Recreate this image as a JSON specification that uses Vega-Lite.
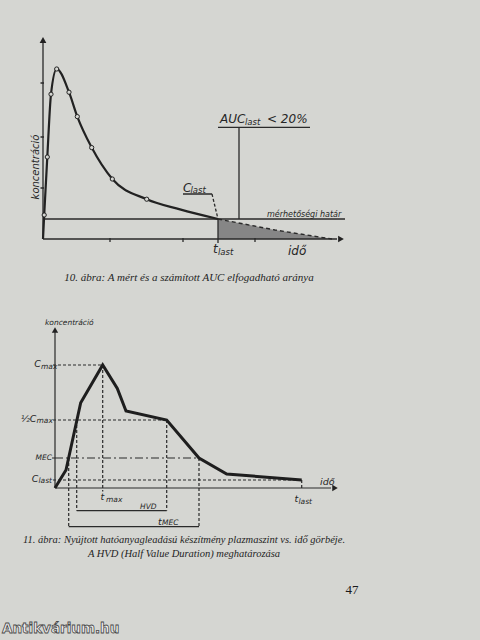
{
  "$schema": "https://vega.github.io/schema/vega-lite/v6.json",
  "autosize": {"type": "none"},
  "padding": {"left": 43, "top": 39, "right": 437, "bottom": 601},
  "background": "#d5d6d2",
  "bounds": "flush",
  "spacing": 79,
  "config": {
    "view": {"stroke": null},
    "text": {"font": "DejaVu Sans", "fontStyle": "italic", "color": "#262626"}
  },
  "datasets": {
    "c1curve": [
      {"t": 0, "c": 0, "obs": false},
      {"t": 0.12, "c": 12, "obs": true},
      {"t": 0.43, "c": 41, "obs": true},
      {"t": 0.8, "c": 72.4, "obs": true},
      {"t": 1.37, "c": 85, "obs": true},
      {"t": 2.6, "c": 73.4, "obs": true},
      {"t": 3.43, "c": 61.2, "obs": true},
      {"t": 4.87, "c": 45.7, "obs": true},
      {"t": 6.93, "c": 30, "obs": true},
      {"t": 10.37, "c": 19.9, "obs": true},
      {"t": 13.7, "c": 14.8, "obs": false},
      {"t": 17.5, "c": 10, "obs": false}
    ],
    "c1ext": [
      {"t": 17.5, "c": 10},
      {"t": 23.2, "c": 4.5},
      {"t": 28.9, "c": 0}
    ],
    "c1rules": [
      {"t": 0, "c": 0, "t2": 29.4, "c2": 0, "dash": "solid"},
      {"t": 0, "c": 0, "t2": 0, "c2": 98.5, "dash": "solid"},
      {"t": 0, "c": 10, "t2": 30.2, "c2": 10, "dash": "solid"},
      {"t": 17.5, "c": -2, "t2": 17.5, "c2": 10, "dash": "solid"},
      {"t": 19.6, "c": 10, "t2": 19.6, "c2": 55.8, "dash": "solid"},
      {"t": 17.5, "c": 55.8, "t2": 26.7, "c2": 55.8, "dash": "solid"},
      {"t": 14, "c": 22.5, "t2": 16.9, "c2": 22.5, "dash": "solid"},
      {"t": 16.9, "c": 22.5, "t2": 17.5, "c2": 10, "dash": "dashed"},
      {"t": -0.25, "c": 78, "t2": 0.1, "c2": 78, "dash": "solid"},
      {"t": -0.25, "c": 51, "t2": 0.1, "c2": 51, "dash": "solid"},
      {"t": -0.25, "c": 25.5, "t2": 0.1, "c2": 25.5, "dash": "solid"},
      {"t": 6.7, "c": -1.5, "t2": 6.7, "c2": 0.5, "dash": "solid"},
      {"t": 14, "c": -1.5, "t2": 14, "c2": 0.5, "dash": "solid"},
      {"t": 21.2, "c": -1.5, "t2": 21.2, "c2": 0.5, "dash": "solid"}
    ],
    "c1arrows": [
      {"t": 29.8, "c": 0, "shape": "triangle-right"},
      {"t": 0, "c": 99.5, "shape": "triangle-up"}
    ],
    "c1text": [
      {"t": 17.7, "c": 57.8, "label": "AUC", "kind": "big"},
      {"t": 22.4, "c": 57.8, "label": "< 20%", "kind": "big"},
      {"t": 14.0, "c": 23.7, "label": "C", "kind": "big"},
      {"t": 17.0, "c": -7, "label": "t", "kind": "big"},
      {"t": 24.5, "c": -8, "label": "idő", "kind": "big"},
      {"t": 20.2, "c": 57, "label": "last", "kind": "sub"},
      {"t": 14.75, "c": 23.2, "label": "last", "kind": "sub"},
      {"t": 17.5, "c": -8, "label": "last", "kind": "sub"},
      {"t": 22.4, "c": 11, "label": "mérhetőségi határ", "kind": "note"},
      {"t": -0.75, "c": 36, "label": "koncentráció", "kind": "vert"}
    ],
    "c2curve": [
      {"t": 0, "c": 0},
      {"t": 1.1, "c": 9},
      {"t": 2.57, "c": 42.6},
      {"t": 4.77, "c": 61.5},
      {"t": 6.23, "c": 49.8},
      {"t": 7.1, "c": 38.5},
      {"t": 11.17, "c": 34},
      {"t": 14.4, "c": 15},
      {"t": 17.17, "c": 7},
      {"t": 24.67, "c": 4}
    ],
    "c2rules": [
      {"t": 0, "c": 0, "t2": 27.6, "c2": 0, "dash": "solid"},
      {"t": 0, "c": 0, "t2": 0, "c2": 78.5, "dash": "solid"},
      {"t": -0.3, "c": 15, "t2": 0, "c2": 15, "dash": "solid"},
      {"t": 2.17, "c": -11.3, "t2": 11.17, "c2": -11.3, "dash": "solid"},
      {"t": 1.37, "c": -19.3, "t2": 14.4, "c2": -19.3, "dash": "solid"},
      {"t": -0.2, "c": 61.5, "t2": 4.77, "c2": 61.5, "dash": "dashed"},
      {"t": -0.2, "c": 34, "t2": 11.17, "c2": 34, "dash": "dashed"},
      {"t": -0.2, "c": 4, "t2": 24.67, "c2": 4, "dash": "dashed"},
      {"t": 0, "c": 15, "t2": 14.4, "c2": 15, "dash": "dashdot"},
      {"t": 4.77, "c": 61.5, "t2": 4.77, "c2": -1.8, "dash": "dashed"},
      {"t": 2.17, "c": 34, "t2": 2.17, "c2": -11.3, "dash": "dashed"},
      {"t": 11.17, "c": 34, "t2": 11.17, "c2": -11.3, "dash": "dashed"},
      {"t": 1.37, "c": 15, "t2": 1.37, "c2": -19.3, "dash": "dashed"},
      {"t": 14.4, "c": 15, "t2": 14.4, "c2": -19.3, "dash": "dashed"},
      {"t": 24.67, "c": 4, "t2": 24.67, "c2": 0, "dash": "dashed"}
    ],
    "c2arrows": [
      {"t": 28, "c": 0, "shape": "triangle-right"},
      {"t": 0, "c": 79, "shape": "triangle-up"}
    ],
    "c2text": [
      {"t": 4.55, "c": -6, "label": "t", "kind": "big"},
      {"t": 23.95, "c": -6.8, "label": "t", "kind": "big"},
      {"t": 10.3, "c": -18.6, "label": "t", "kind": "big"},
      {"t": 26.5, "c": 1.5, "label": "idő", "kind": "big"},
      {"t": 5.1, "c": -7, "label": "max", "kind": "sub"},
      {"t": 24.35, "c": -8, "label": "last", "kind": "sub"},
      {"t": 10.7, "c": -18.6, "label": "MEC", "kind": "sub"},
      {"t": 8.5, "c": -10.3, "label": "HVD", "kind": "sub"},
      {"t": -1.0, "c": 81.5, "label": "koncentráció", "kind": "sub"},
      {"t": -1.4, "c": 59.7, "label": "max", "kind": "sub"},
      {"t": -1.85, "c": 32.3, "label": "max", "kind": "sub"},
      {"t": -1.65, "c": 2.3, "label": "last", "kind": "sub"},
      {"t": -1.4, "c": 60.3, "label": "C", "kind": "bigR"},
      {"t": -1.85, "c": 32.8, "label": "½C", "kind": "bigR"},
      {"t": -1.65, "c": 2.8, "label": "C", "kind": "bigR"},
      {"t": -0.3, "c": 13.8, "label": "MEC", "kind": "subR"}
    ],
    "footer": [
      {"u": 309, "v": 37, "label": "47", "kind": "page"},
      {"u": -41, "v": -1.5, "label": "Antikvárium.hu", "kind": "mark"}
    ]
  },
  "vconcat": [
    {
      "width": 300,
      "height": 200,
      "title": {
        "text": "10. ábra: A mért és a számított AUC elfogadható aránya",
        "orient": "bottom", "anchor": "middle", "frame": "group", "offset": 15, "dx": -4,
        "font": "Liberation Serif", "fontStyle": "italic", "fontWeight": "normal",
        "fontSize": 11, "color": "#1e1e1e"
      },
      "encoding": {
        "x": {"field": "t", "type": "quantitative", "scale": {"domain": [0, 30], "nice": false, "zero": false}, "axis": null},
        "y": {"field": "c", "type": "quantitative", "scale": {"domain": [0, 100], "nice": false, "zero": false}, "axis": null}
      },
      "layer": [
        {
          "data": {"name": "c1ext"},
          "mark": {"type": "area", "color": "#7d7d7d", "opacity": 0.9},
          "encoding": {"y2": {"datum": 0}}
        },
        {
          "data": {"name": "c1rules"},
          "mark": {"type": "rule", "color": "#2a2a2a", "strokeWidth": 1.3},
          "encoding": {
            "x2": {"field": "t2"},
            "y2": {"field": "c2"},
            "strokeDash": {"field": "dash", "type": "nominal", "scale": {"domain": ["solid", "dashed", "dashdot"], "range": [[1, 0], [3, 2], [8, 3, 2, 3]]}, "legend": null}
          }
        },
        {
          "data": {"name": "c1ext"},
          "mark": {"type": "line", "color": "#2a2a2a", "strokeWidth": 1.4, "strokeDash": [4, 3]},
          "encoding": {}
        },
        {
          "data": {"name": "c1curve"},
          "mark": {"type": "line", "color": "#222222", "strokeWidth": 2.2, "interpolate": "monotone"},
          "encoding": {}
        },
        {
          "data": {"name": "c1curve"},
          "transform": [{"filter": "datum.obs"}],
          "mark": {"type": "point", "shape": "circle", "size": 18, "filled": true, "fill": "#d5d6d2", "stroke": "#222222", "strokeWidth": 1, "opacity": 1},
          "encoding": {}
        },
        {
          "data": {"name": "c1arrows"},
          "mark": {"type": "point", "filled": true, "color": "#222222", "size": 45, "opacity": 1},
          "encoding": {"shape": {"field": "shape", "type": "nominal", "scale": null}}
        },
        {
          "data": {"name": "c1text"},
          "transform": [{"filter": "datum.kind == 'big'"}],
          "mark": {"type": "text", "align": "left", "baseline": "alphabetic", "fontSize": 12},
          "encoding": {"text": {"field": "label"}}
        },
        {
          "data": {"name": "c1text"},
          "transform": [{"filter": "datum.kind == 'sub'"}],
          "mark": {"type": "text", "align": "left", "baseline": "alphabetic", "fontSize": 8.5},
          "encoding": {"text": {"field": "label"}}
        },
        {
          "data": {"name": "c1text"},
          "transform": [{"filter": "datum.kind == 'note'"}],
          "mark": {"type": "text", "align": "left", "baseline": "alphabetic", "fontSize": 8},
          "encoding": {"text": {"field": "label"}}
        },
        {
          "data": {"name": "c1text"},
          "transform": [{"filter": "datum.kind == 'vert'"}],
          "mark": {"type": "text", "align": "center", "baseline": "middle", "fontSize": 10, "angle": 270},
          "encoding": {"text": {"field": "label"}}
        }
      ]
    },
    {
      "width": 300,
      "height": 170,
      "title": {
        "text": ["11. ábra: Nyújtott hatóanyagleadású készítmény plazmaszint vs. idő görbéje.", "A HVD (Half Value Duration) meghatározása"],
        "orient": "bottom", "anchor": "middle", "frame": "group", "offset": 8, "dx": -9, "lineHeight": 14,
        "font": "Liberation Serif", "fontStyle": "italic", "fontWeight": "normal",
        "fontSize": 10.5, "color": "#1e1e1e"
      },
      "encoding": {
        "x": {"field": "t", "type": "quantitative", "scale": {"domain": [-1.2, 28.8], "nice": false, "zero": false}, "axis": null},
        "y": {"field": "c", "type": "quantitative", "scale": {"domain": [0, 85], "nice": false, "zero": false}, "axis": null}
      },
      "layer": [
        {
          "data": {"name": "c2rules"},
          "mark": {"type": "rule", "color": "#2a2a2a", "strokeWidth": 1.2},
          "encoding": {
            "x2": {"field": "t2"},
            "y2": {"field": "c2"},
            "strokeDash": {"field": "dash", "type": "nominal", "scale": {"domain": ["solid", "dashed", "dashdot"], "range": [[1, 0], [4, 3], [8, 3, 2, 3]]}, "legend": null}
          }
        },
        {
          "data": {"name": "c2curve"},
          "mark": {"type": "line", "color": "#1e1e1e", "strokeWidth": 3, "strokeJoin": "miter"},
          "encoding": {}
        },
        {
          "data": {"name": "c2arrows"},
          "mark": {"type": "point", "filled": true, "color": "#222222", "size": 40, "opacity": 1},
          "encoding": {"shape": {"field": "shape", "type": "nominal", "scale": null}}
        },
        {
          "data": {"name": "c2text"},
          "transform": [{"filter": "datum.kind == 'big'"}],
          "mark": {"type": "text", "align": "left", "baseline": "alphabetic", "fontSize": 9.5},
          "encoding": {"text": {"field": "label"}}
        },
        {
          "data": {"name": "c2text"},
          "transform": [{"filter": "datum.kind == 'sub'"}],
          "mark": {"type": "text", "align": "left", "baseline": "alphabetic", "fontSize": 7.5},
          "encoding": {"text": {"field": "label"}}
        },
        {
          "data": {"name": "c2text"},
          "transform": [{"filter": "datum.kind == 'bigR'"}],
          "mark": {"type": "text", "align": "right", "baseline": "alphabetic", "fontSize": 9.5},
          "encoding": {"text": {"field": "label"}}
        },
        {
          "data": {"name": "c2text"},
          "transform": [{"filter": "datum.kind == 'subR'"}],
          "mark": {"type": "text", "align": "right", "baseline": "alphabetic", "fontSize": 7.5},
          "encoding": {"text": {"field": "label"}}
        }
      ]
    },
    {
      "width": 300,
      "height": 60,
      "data": {"name": "footer"},
      "encoding": {
        "x": {"field": "u", "type": "quantitative", "scale": {"domain": [0, 300], "nice": false, "zero": false}, "axis": null},
        "y": {"field": "v", "type": "quantitative", "scale": {"domain": [0, 60], "nice": false, "zero": false}, "axis": null},
        "text": {"field": "label"}
      },
      "layer": [
        {
          "transform": [{"filter": "datum.kind == 'page'"}],
          "mark": {"type": "text", "align": "center", "baseline": "middle", "font": "Liberation Serif", "fontStyle": "normal", "fontSize": 13, "color": "#1a1a1a"}
        },
        {
          "transform": [{"filter": "datum.kind == 'mark'"}],
          "mark": {"type": "text", "align": "left", "baseline": "middle", "font": "DejaVu Sans", "fontStyle": "normal", "fontWeight": "bold", "fontSize": 13.5, "fill": "#f2f2f2", "stroke": "#4a4a4a", "strokeWidth": 0.8}
        }
      ]
    }
  ]
}
